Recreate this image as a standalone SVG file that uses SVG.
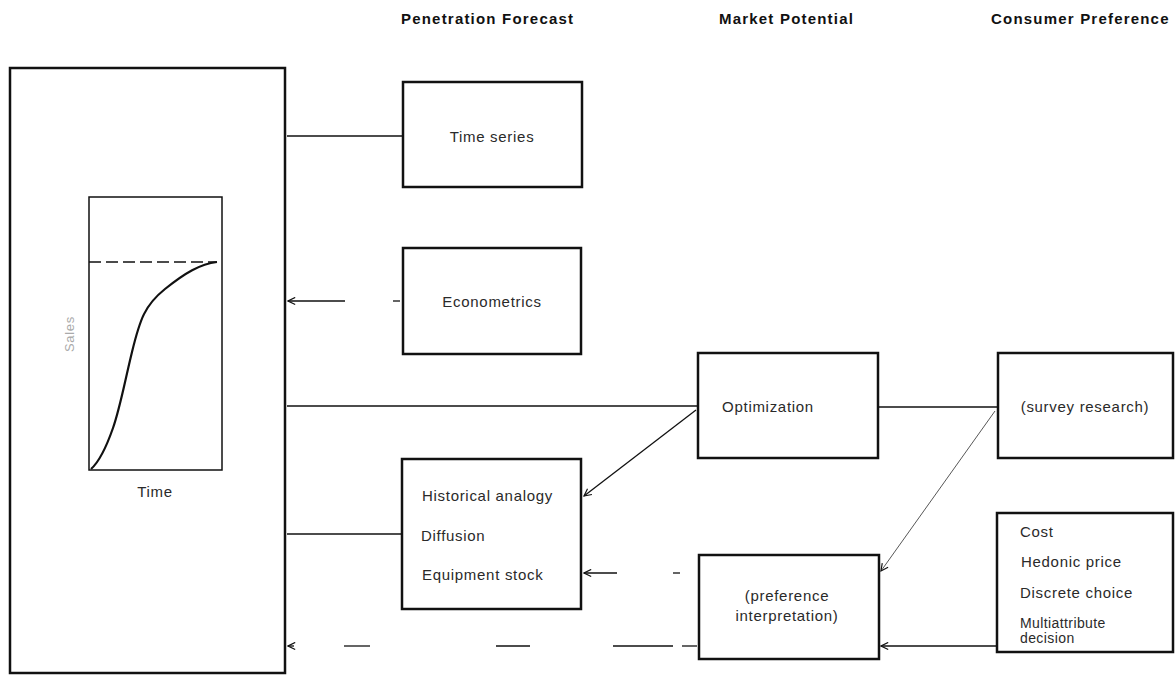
<svg xmlns="http://www.w3.org/2000/svg" width="1175" height="676" viewBox="0 0 1175 676">
  <style>
    .box { fill: #fff; stroke: #111; stroke-width: 2.5; }
    .frame { fill: none; stroke: #111; stroke-width: 1.5; }
    .txt { font-family: "Liberation Sans", Arial, sans-serif; font-size: 15px; fill: #2a2a2a; letter-spacing: 0.7px; }
    .small { font-size: 14px; letter-spacing: 0.4px; }
    .head { font-family: "Liberation Sans", Arial, sans-serif; font-size: 15px; font-weight: bold; fill: #111; letter-spacing: 1.2px; }
    .mid { text-anchor: middle; }
    .conn { fill: none; stroke: #111; stroke-width: 1.3; }
    .thin { fill: none; stroke: #444; stroke-width: 0.9; }
  </style>
  <defs>
    <marker id="arrow" viewBox="0 0 10 10" refX="9" refY="5" markerWidth="9" markerHeight="9" markerUnits="userSpaceOnUse" orient="auto">
      <path d="M1,1 L9,5 L1,9" fill="none" stroke="#111" stroke-width="1.3"/>
    </marker>
  </defs>

  <rect width="1175" height="676" fill="#fff"/>

  <!-- column headings -->
  <g id="headings">
    <text class="head" x="401" y="24">Penetration Forecast</text>
    <text class="head" x="719" y="24">Market Potential</text>
    <text class="head" x="991" y="24">Consumer Preference</text>
  </g>

  <!-- sales curve panel -->
  <g id="sales-panel">
    <rect class="box" x="10" y="68" width="275" height="605"/>
    <rect class="frame" x="89" y="197" width="133" height="273"/>
    <line x1="89" y1="262" x2="217" y2="262" stroke="#111" stroke-width="1.5" stroke-dasharray="12,5"/>
    <path d="M91,469 C99,462 106,448 113,428 S124,385 132,352 S145,305 165,289 S200,264 217,262" fill="none" stroke="#111" stroke-width="2.2"/>
    <text class="txt" x="74" y="334" transform="rotate(-90 74 334)" text-anchor="middle" style="font-size:13px; fill:#aaa;">Sales</text>
    <text class="txt mid" x="155" y="497">Time</text>
  </g>

  <g id="time-series">
    <rect class="box" x="403" y="82" width="179" height="105"/>
    <text class="txt mid" x="492" y="142">Time series</text>
  </g>

  <g id="econometrics">
    <rect class="box" x="403" y="248" width="178" height="106"/>
    <text class="txt mid" x="492" y="307">Econometrics</text>
  </g>

  <g id="optimization">
    <rect class="box" x="698" y="353" width="180" height="105"/>
    <text class="txt mid" x="768" y="412">Optimization</text>
  </g>

  <g id="survey-research">
    <rect class="box" x="998" y="353" width="175" height="105"/>
    <text class="txt mid" x="1085" y="412">(survey research)</text>
  </g>

  <g id="penetration-methods">
    <rect class="box" x="402" y="459" width="179" height="150"/>
    <text class="txt" x="422" y="501">Historical analogy</text>
    <text class="txt" x="421" y="541">Diffusion</text>
    <text class="txt" x="422" y="580">Equipment stock</text>
  </g>

  <g id="preference-interpretation">
    <rect class="box" x="699" y="555" width="180" height="104"/>
    <text class="txt mid" x="787" y="601">(preference</text>
    <text class="txt mid" x="787" y="621">interpretation)</text>
  </g>

  <g id="preference-methods">
    <rect class="box" x="997" y="513" width="176" height="139"/>
    <text class="txt" x="1020" y="537">Cost</text>
    <text class="txt" x="1021" y="567">Hedonic price</text>
    <text class="txt" x="1020" y="598">Discrete choice</text>
    <text class="txt small" x="1020" y="628">Multiattribute</text>
    <text class="txt small" x="1020" y="643">decision</text>
  </g>

  <!-- connectors -->
  <g id="connectors">
    <line class="conn" x1="287" y1="136" x2="403" y2="136"/>
    <line class="conn" x1="345" y1="301" x2="288" y2="301" marker-end="url(#arrow)"/>
    <line class="conn" x1="393" y1="301" x2="400" y2="301"/>
    <line class="conn" x1="287" y1="406" x2="698" y2="406"/>
    <line class="conn" x1="878" y1="407" x2="998" y2="407"/>
    <line class="conn" x1="287" y1="534" x2="402" y2="534"/>
    <line class="conn" x1="696" y1="410" x2="584" y2="496" marker-end="url(#arrow)"/>
    <line class="conn" x1="617" y1="573" x2="584" y2="573" marker-end="url(#arrow)"/>
    <line class="conn" x1="673" y1="573" x2="680" y2="573"/>
    <line class="thin" x1="995" y1="411" x2="881" y2="571" marker-end="url(#arrow)"/>
    <line class="conn" x1="996" y1="646" x2="881" y2="646" marker-end="url(#arrow)"/>
    <line class="conn" x1="294" y1="646" x2="288" y2="646" marker-end="url(#arrow)"/>
    <line class="conn" x1="344" y1="646" x2="370" y2="646"/>
    <line class="conn" x1="496" y1="646" x2="530" y2="646"/>
    <line class="conn" x1="613" y1="646" x2="673" y2="646"/>
    <line class="conn" x1="682" y1="646" x2="697" y2="646"/>
  </g>
</svg>
